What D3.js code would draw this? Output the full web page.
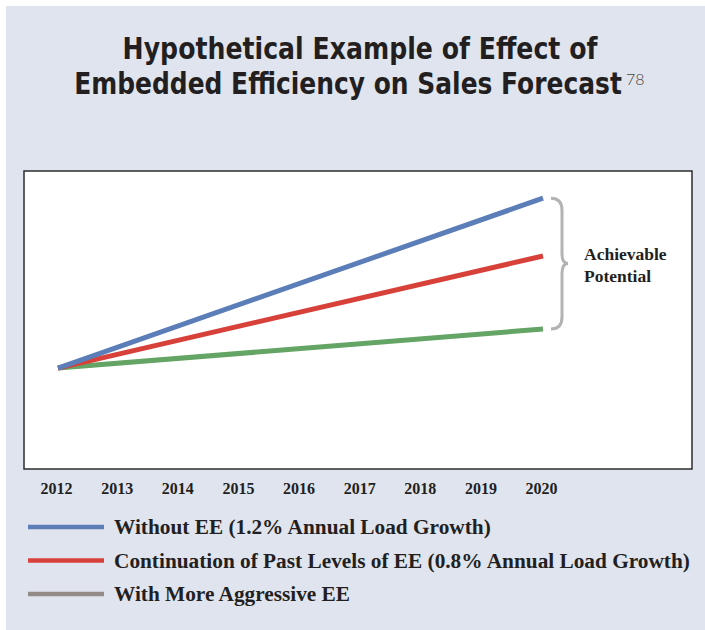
<!DOCTYPE html>
<html>
<head>
<meta charset="utf-8">
<script src="https://cdn.jsdelivr.net/npm/d3@7"></script>
<style>
  body { margin: 0; background: #fff; }
  .tick text { font-family: "Liberation Serif", serif; font-weight: bold; font-size: 16px; fill: #231f20; }
</style>
</head>
<body>
<div class="chart"></div>
<script>
// chart data
var years = [2012, 2020];
var withoutEE = [100, 110.0];      // 1.2% annual load growth
var pastLevelsEE = [100, 106.6];   // 0.8% annual load growth
var aggressiveEE = [100, 102.3];
var tickYears = [2012, 2013, 2014, 2015, 2016, 2017, 2018, 2019, 2020];
var seriesNames = [
  "Without EE (1.2% Annual Load Growth)",
  "Continuation of Past Levels of EE (0.8% Annual Load Growth)",
  "With More Aggressive EE"
];
var titleLines = ["Hypothetical Example of Effect of", "Embedded Efficiency on Sales Forecast"];
var lineColors = ["#5b7db8", "#d8403a", "#64a464"];
var legendColors = ["#5b7db8", "#d8403a", "#928b88"];

var svgWidth = 705;
var svgHeight = 630;

var svg = d3.select(".chart").append("svg")
  .attr("width", svgWidth)
  .attr("height", svgHeight);

// panel background
svg.append("rect")
  .attr("x", 6).attr("y", 6)
  .attr("width", svgWidth - 6).attr("height", svgHeight - 6)
  .attr("fill", "#e0e4ef");

// title - heavy font squeezed horizontally to look condensed
var titlePos = [{cx: 360, y: 59, w: 475}, {cx: 348, y: 94, w: 548}];
titleLines.forEach(function(t, i) {
  var g = svg.append("g");
  var txt = g.append("text")
    .attr("text-anchor", "middle")
    .style("font-family", "DejaVu Sans, sans-serif")
    .style("font-weight", "bold")
    .style("font-size", "31px")
    .attr("fill", "#231f20")
    .text(t);
  var natural = txt.node().getComputedTextLength();
  g.attr("transform", `translate(${titlePos[i].cx}, ${titlePos[i].y}) scale(${titlePos[i].w / natural}, 1)`);
});
svg.append("text")
  .attr("x", 626).attr("y", 85)
  .style("font-family", "Lato, sans-serif")
  .style("font-weight", "300")
  .style("font-size", "16px")
  .attr("fill", "#444")
  .text("78");

// plot box
var box = {left: 24, top: 171, right: 692, bottom: 469};
svg.append("rect")
  .attr("x", box.left).attr("y", box.top)
  .attr("width", box.right - box.left).attr("height", box.bottom - box.top)
  .attr("fill", "#fff")
  .attr("stroke", "#2b2b2b")
  .attr("stroke-width", 1.5);

var x = d3.scaleLinear().domain([2012, 2020]).range([58, 543]);
var y = d3.scaleLinear().domain([94.06, 111.6]).range([box.bottom, box.top]);

// x axis labels only
var xAxis = d3.axisBottom(x)
  .tickValues(tickYears)
  .tickFormat(d3.format("d"))
  .tickSize(0)
  .tickPadding(0);
svg.append("g")
  .attr("transform", "translate(-2, 483)")
  .call(xAxis)
  .call(g => g.select(".domain").remove());

// lines
var line = d3.line()
  .x(d => x(d[0]))
  .y(d => y(d[1]));

var seriesData = [withoutEE, pastLevelsEE, aggressiveEE];
// draw green first so blue/red sit on top at the shared start
[2, 1, 0].forEach(function(i) {
  svg.append("path")
    .datum(years.map((yr, j) => [yr, seriesData[i][j]]))
    .attr("d", line)
    .attr("fill", "none")
    .attr("stroke", lineColors[i])
    .attr("stroke-width", 5);
});

// brace
var bTop = y(withoutEE[1]), bBot = y(aggressiveEE[1]);
var bMid = (bTop + bBot) / 2;
var bx = 551, bw = 11;
svg.append("path")
  .attr("d",
    `M${bx},${bTop} Q${bx + bw},${bTop} ${bx + bw},${bTop + 12}` +
    ` L${bx + bw},${bMid - 10} Q${bx + bw},${bMid} ${bx + bw + 6},${bMid}` +
    ` Q${bx + bw},${bMid} ${bx + bw},${bMid + 10}` +
    ` L${bx + bw},${bBot - 12} Q${bx + bw},${bBot} ${bx},${bBot}`)
  .attr("fill", "none")
  .attr("stroke", "#b3b3b5")
  .attr("stroke-width", 3);

var note = svg.append("text")
  .style("font-family", "Liberation Serif, serif")
  .style("font-weight", "bold")
  .style("font-size", "17.5px")
  .attr("fill", "#231f20");
note.append("tspan").attr("x", 584).attr("y", 260).text("Achievable");
note.append("tspan").attr("x", 584).attr("y", 282).text("Potential");

// legend
var legend = svg.selectAll(".legend")
  .data(seriesNames)
  .enter()
  .append("g")
  .attr("class", "legend")
  .attr("transform", (d, i) => `translate(28, ${527 + i * 33.5})`);

legend.append("line")
  .attr("x1", 0).attr("x2", 76)
  .attr("y1", 0).attr("y2", 0)
  .attr("stroke", (d, i) => legendColors[i])
  .attr("stroke-width", 4.5);

legend.append("text")
  .attr("x", 86).attr("y", 7)
  .style("font-family", "Liberation Serif, serif")
  .style("font-weight", "bold")
  .style("font-size", "21.3px")
  .attr("fill", "#231f20")
  .text(d => d);
</script>
</body>
</html>
